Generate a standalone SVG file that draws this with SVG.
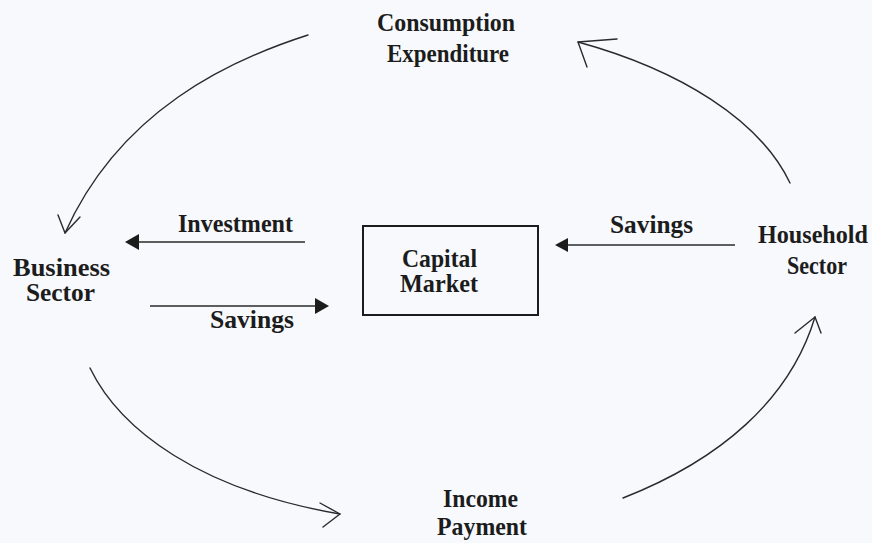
<svg xmlns="http://www.w3.org/2000/svg" width="872" height="543" viewBox="0 0 872 543">
<style>
  .t { font-family: "Liberation Serif", "Times New Roman", serif; font-weight: bold; font-size: 25px; fill: #1c1c1c; text-anchor: middle; }
  .c { fill: none; stroke: #2a2a2a; stroke-width: 1.4; stroke-linecap: round; stroke-linejoin: round; }
  .s { fill: none; stroke: #2a2a2a; stroke-width: 1.3; }
  .h { fill: #1c1c1c; stroke: none; }
</style>
<rect width="872" height="543" fill="#f7f9fc"/>

<g id="consumption">
  <text class="t" x="446" y="31" textLength="138" lengthAdjust="spacingAndGlyphs">Consumption</text>
  <text class="t" x="448" y="62" textLength="122" lengthAdjust="spacingAndGlyphs">Expenditure</text>
</g>
<g id="business">
  <text class="t" x="61.5" y="276" textLength="97" lengthAdjust="spacingAndGlyphs">Business</text>
  <text class="t" x="60.5" y="301" textLength="69" lengthAdjust="spacingAndGlyphs">Sector</text>
</g>
<g id="capital-market">
  <rect x="363" y="226" width="175" height="89" fill="none" stroke="#1c1c1c" stroke-width="2"/>
  <text class="t" x="439.5" y="267" textLength="75" lengthAdjust="spacingAndGlyphs">Capital</text>
  <text class="t" x="439" y="292" textLength="78" lengthAdjust="spacingAndGlyphs">Market</text>
</g>
<g id="household">
  <text class="t" x="813" y="243" textLength="110" lengthAdjust="spacingAndGlyphs">Household</text>
  <text class="t" x="817" y="274" textLength="60" lengthAdjust="spacingAndGlyphs">Sector</text>
</g>
<g id="income">
  <text class="t" x="480.5" y="507" textLength="75" lengthAdjust="spacingAndGlyphs">Income</text>
  <text class="t" x="482" y="535" textLength="90" lengthAdjust="spacingAndGlyphs">Payment</text>
</g>

<g id="connectors">
  <!-- Consumption -> Business -->
  <path class="c" d="M308,35 C230,60 120,110 65,233"/>
  <polyline class="c" points="58,215 65,233 80,217"/>
  <!-- Household -> Consumption -->
  <path class="c" d="M790,183 C760,120 680,70 578,42"/>
  <polyline class="c" points="617,39 578,42 587,67"/>
  <!-- Business -> Income -->
  <path class="c" d="M90,368 C120,430 200,490 340,514"/>
  <polyline class="c" points="320,503 340,514 323,527"/>
  <!-- Income -> Household -->
  <path class="c" d="M623,498 C720,460 790,400 815,317"/>
  <polyline class="c" points="795,333 815,317 821,333"/>

  <!-- Investment arrow -->
  <line class="s" x1="305" y1="242" x2="136" y2="242"/>
  <polygon class="h" points="125,242 139,234 139,250"/>
  <text class="t" x="235.5" y="232" textLength="115" lengthAdjust="spacingAndGlyphs">Investment</text>
  <!-- Savings (business -> capital) -->
  <line class="s" x1="150" y1="306" x2="318" y2="306"/>
  <polygon class="h" points="329,306 315,298 315,314"/>
  <text class="t" x="252" y="328" textLength="84" lengthAdjust="spacingAndGlyphs">Savings</text>
  <!-- Savings (household -> capital) -->
  <line class="s" x1="735" y1="245" x2="566" y2="245"/>
  <polygon class="h" points="555,245 568,238 568,252"/>
  <text class="t" x="651.5" y="233" textLength="83" lengthAdjust="spacingAndGlyphs">Savings</text>
</g>
</svg>
